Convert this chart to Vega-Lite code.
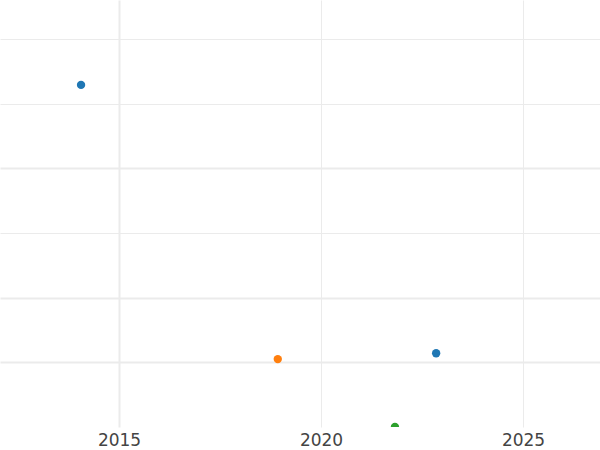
{
  "$schema": "https://vega.github.io/schema/vega-lite/v6.json",
  "width": 600,
  "height": 427,
  "autosize": {"type": "none"},
  "padding": {"top": 0, "left": 0, "right": 0, "bottom": 23},
  "background": "white",
  "config": {"view": {"stroke": null}},
  "data": {"values": [
    {"year": 2014.06, "value": 5.29, "group": "A"},
    {"year": 2018.93, "value": 1.05, "group": "B"},
    {"year": 2022.85, "value": 1.14, "group": "A"},
    {"year": 2021.83, "value": 0.0, "group": "C"}
  ]},
  "mark": {"type": "circle", "size": 70, "opacity": 1, "clip": true},
  "encoding": {
    "x": {
      "field": "year", "type": "quantitative",
      "scale": {"domain": [2012.054, 2026.906], "nice": false, "zero": false},
      "axis": {
        "title": null, "values": [2015, 2020, 2025], "format": "d",
        "domain": false, "ticks": false, "labelPadding": 5,
        "labelFont": "DejaVu Sans", "labelFontSize": 17, "labelColor": "#444444",
        "gridColor": "#ebebeb",
        "gridWidth": {"condition": {"test": "datum.value == 2015", "value": 2}, "value": 1}
      }
    },
    "y": {
      "field": "value", "type": "quantitative",
      "scale": {"domain": [0, 6.603], "nice": false, "zero": false},
      "axis": {
        "title": null, "values": [1, 2, 3, 4, 5, 6], "labels": false,
        "domain": false, "ticks": false,
        "gridColor": "#ebebeb",
        "gridWidth": {"condition": {"test": "datum.value <= 2 || datum.value == 4", "value": 2}, "value": 1}
      }
    },
    "color": {
      "field": "group", "type": "nominal",
      "scale": {"domain": ["A", "B", "C"], "range": ["#1f77b4", "#ff7f0e", "#2ca02c"]},
      "legend": null
    }
  }
}
